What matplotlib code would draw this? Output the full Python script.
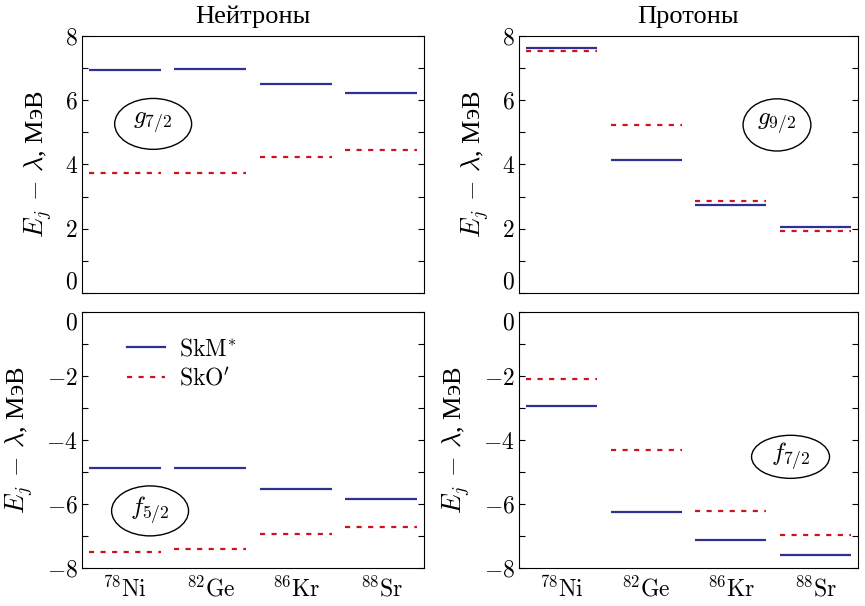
import numpy as np
import matplotlib
matplotlib.use('Agg')
import matplotlib.pyplot as plt
from matplotlib.patches import Ellipse
from matplotlib.lines import Line2D

plt.rcParams['font.family'] = ['cmr10', 'DejaVu Serif']
plt.rcParams['mathtext.fontset'] = 'cm'
plt.rcParams['axes.formatter.use_mathtext'] = True
plt.rcParams['font.size'] = 17

nuclei = [r'$^{78}\mathrm{Ni}$', r'$^{82}\mathrm{Ge}$', r'$^{86}\mathrm{Kr}$', r'$^{88}\mathrm{Sr}$']

# neutrons g7/2
n_g72_skm = [6.95, 6.97, 6.50, 6.23]
n_g72_sko = [3.72, 3.72, 4.24, 4.46]
# protons g9/2
p_g92_skm = [7.64, 4.15, 2.74, 2.04]
p_g92_sko = [7.54, 5.23, 2.86, 1.93]
# neutrons f5/2
n_f52_skm = [-4.88, -4.86, -5.53, -5.85]
n_f52_sko = [-7.48, -7.40, -6.93, -6.70]
# protons f7/2
p_f72_skm = [-2.94, -6.25, -7.13, -7.59]
p_f72_sko = [-2.10, -4.32, -6.21, -6.96]

blue = '#2e3192'
red = '#cc1122'
half = 0.42
cyr = 'Liberation Serif'

fig = plt.figure(figsize=(8.65, 6.06), dpi=100)
pos = [
    [0.0948, 0.5165, 0.3954, 0.4241],
    [0.6000, 0.5165, 0.3919, 0.4241],
    [0.0948, 0.0622, 0.3954, 0.4229],
    [0.6000, 0.0622, 0.3919, 0.4229],
]
panels = [
    (n_g72_skm, n_g72_sko, (0, 8), r'$g_{7/2}$', (0.208, 0.658, 0.225, 0.198)),
    (p_g92_skm, p_g92_sko, (0, 8), r'$g_{9/2}$', (0.761, 0.654, 0.200, 0.203)),
    (n_f52_skm, n_f52_sko, (-8, 0), r'$f_{5/2}$', (0.199, 0.224, 0.225, 0.195)),
    (p_f72_skm, p_f72_sko, (-8, 0), r'$f_{7/2}$', (0.801, 0.435, 0.230, 0.168)),
]

x = np.arange(len(nuclei))
axes = []
for i, (skm, sko, ylim, lab, ell) in enumerate(panels):
    ax = fig.add_axes(pos[i])
    axes.append(ax)
    ax.hlines(skm, x - half, x + half, color=blue, lw=1.6)
    ax.hlines(sko, x - half, x + half, color=red, lw=1.6, linestyles=(0, (2.3, 2.9)))
    ax.set_xlim(-0.5, 3.5)
    ax.set_ylim(*ylim)
    ax.set_yticks(np.arange(ylim[0], ylim[1] + 1, 2))
    ax.set_yticks(np.arange(ylim[0] + 1, ylim[1], 2), minor=True)
    ax.tick_params(axis='y', which='both', direction='in', left=True, right=True,
                   length=4, width=0.8, pad=3)
    ax.set_xticks(x)
    ax.tick_params(axis='x', length=0, pad=6)
    if i < 2:
        ax.set_xticklabels([])
    else:
        ax.set_xticklabels(nuclei)
    ax.set_ylabel(r'$E_j\,-\,\lambda$, МэВ', family=cyr, fontsize=19, labelpad=8)
    cx, cy, w, h = ell
    ax.add_patch(Ellipse((cx, cy), w, h, transform=ax.transAxes, fill=False,
                         ec='black', lw=1.0))
    ax.text(cx, cy, lab, transform=ax.transAxes, ha='center', va='center', fontsize=18)

# zero labels sit inside their own panel, as in the original
for ax in axes[:2]:
    ax.get_yticklabels()[0].set_va('bottom')
for ax in axes[2:]:
    ax.get_yticklabels()[-1].set_va('top')

axes[0].set_title('Нейтроны', pad=9, fontsize=19, family=cyr)
axes[1].set_title('Протоны', pad=9, fontsize=19, family=cyr)

handles = [Line2D([], [], color=blue, lw=1.6),
           Line2D([], [], color=red, lw=1.6, ls=(0, (2.3, 2.9)))]
axes[2].legend(handles, [r'SkM$^{*}$', r'SkO$^{\prime}$'], loc='upper left',
               bbox_to_anchor=(0.07, 0.98), frameon=False, handlelength=1.6,
               handletextpad=0.6, labelspacing=0.3, fontsize=17)

fig.savefig('out.png', dpi=100)
